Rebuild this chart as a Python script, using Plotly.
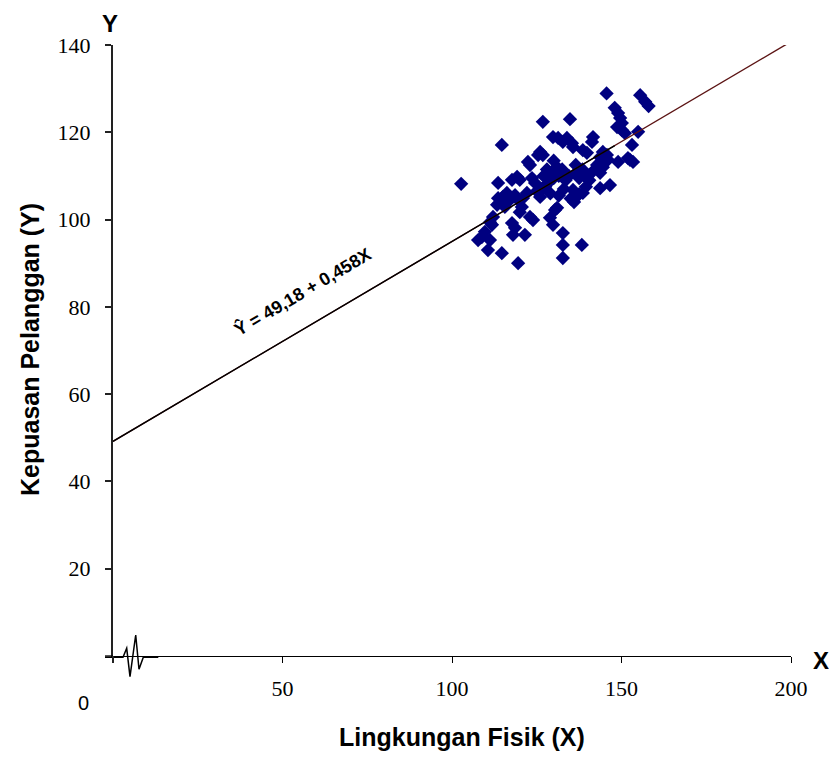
import plotly.graph_objects as go

# data
x_vals = [102.7, 114.7, 145.6, 155.5, 157.0, 158.0, 148.0, 149.0, 149.6, 150.1,
          148.7, 150.1, 151.0, 154.9, 126.8, 134.8, 129.8, 131.3, 132.7, 133.9,
          135.4, 135.7, 141.6, 141.3, 153.1, 126.0, 126.8, 125.4, 122.4, 123.0,
          138.6, 139.8, 144.5, 145.7, 143.7, 146.0, 142.8, 144.5, 143.7, 151.9,
          153.4, 149.0, 130.0, 131.0, 129.5, 131.5, 132.5, 130.0, 133.5, 134.5,
          136.5, 137.0, 138.5, 137.5, 139.0, 140.5, 141.5, 135.7, 136.5, 137.5,
          135.0, 136.0, 143.7, 146.6, 113.6, 119.2, 120.0, 117.7, 123.6, 124.5,
          116.2, 115.0, 113.6, 114.7, 113.3, 115.6, 117.1, 118.6, 119.5, 120.9,
          122.1, 126.0, 120.6, 120.0, 123.9, 123.0, 112.1, 111.2, 111.8, 109.7,
          108.8, 107.7, 111.2, 110.6, 114.7, 117.7, 118.6, 118.0, 121.5, 119.5,
          128.9, 129.8, 131.0, 130.4, 132.7, 132.7, 132.7, 138.3, 127.5, 128.5,
          126.5, 127.0, 128.0, 129.0, 125.0, 131.5, 133.0, 139.5, 138.6, 152.5]
y_vals = [108.2, 117.1, 128.9, 128.5, 127.0, 126.0, 125.6, 124.4, 123.3, 122.1,
          121.2, 120.5, 119.8, 120.1, 122.4, 123.0, 118.9, 118.7, 117.8, 118.7,
          117.5, 116.6, 118.9, 117.8, 117.1, 115.5, 114.8, 114.8, 113.2, 112.5,
          115.9, 115.3, 115.5, 114.8, 114.3, 113.7, 112.5, 112.0, 110.7, 114.1,
          113.2, 113.2, 113.5, 112.0, 111.0, 110.0, 111.5, 109.5, 109.0, 110.0,
          112.5, 111.0, 111.5, 109.5, 110.0, 109.0, 111.0, 106.8, 105.5, 105.8,
          104.8, 104.0, 107.2, 107.9, 108.4, 109.8, 109.1, 109.1, 109.5, 108.4,
          106.1, 105.2, 104.9, 104.0, 103.4, 102.9, 104.5, 105.6, 104.5, 104.9,
          106.1, 105.2, 102.9, 101.7, 99.9, 100.6, 100.6, 99.4, 98.8, 97.2,
          96.0, 95.3, 95.3, 93.0, 92.3, 99.2, 98.1, 96.5, 96.5, 90.0,
          100.4, 98.8, 102.7, 102.2, 96.9, 94.2, 91.2, 94.2, 107.5, 108.5,
          107.0, 110.0, 111.5, 106.0, 106.5, 105.5, 107.0, 107.5, 106.1, 113.7]

intercept = 49.18
slope = 0.458
line_x_full = [0, 200]
line_x_black = [0, 148]
x_ticks = [50, 100, 150, 200]
y_ticks = [20, 40, 60, 80, 100, 120, 140]

# page has an 8px body margin; figure sized to fit the 837x758 window
OFF = 8
W, H = 837 - OFF, 758 - OFF
L, T = 113 - OFF, 45 - OFF
R = W - (791 - OFF)
B = H - (656 - OFF)
pw, ph = W - L - R, H - T - B

def px(xp):
    return (xp - OFF - L) / pw

def py(yp):
    return (H - B - (yp - OFF)) / ph

fig = go.Figure()
fig.add_trace(go.Scatter(x=x_vals, y=y_vals, mode="markers",
                         marker=dict(symbol="diamond", size=11, color="#000080",
                                     line=dict(width=0)),
                         showlegend=False, hoverinfo="skip"))
fig.add_trace(go.Scatter(x=line_x_full, y=[intercept + slope * v for v in line_x_full],
                         mode="lines", line=dict(color="#5c1414", width=1.4),
                         showlegend=False, hoverinfo="skip"))
fig.add_trace(go.Scatter(x=line_x_black, y=[intercept + slope * v for v in line_x_black],
                         mode="lines", line=dict(color="black", width=1.4),
                         showlegend=False, hoverinfo="skip"))

tick_font = dict(family="Liberation Serif, Times New Roman, serif", size=22, color="black")
fig.update_xaxes(range=[0, 200], tickvals=x_ticks, ticktext=[str(v) for v in x_ticks],
                 showgrid=False, zeroline=False, showline=True, linecolor="black",
                 linewidth=1.3, ticks="outside", ticklen=6, tickwidth=1.3, tickcolor="black",
                 tickfont=tick_font, ticklabelstandoff=6, automargin=False)
fig.update_yaxes(range=[0, 140], tickvals=y_ticks, ticktext=[str(v) for v in y_ticks],
                 showgrid=False, zeroline=False, showline=True, linecolor="#222222",
                 linewidth=2, ticks="outside", ticklen=6, tickwidth=1.5, tickcolor="#222222",
                 tickfont=tick_font, ticklabelstandoff=10, automargin=False)

bold = dict(family="Arial, Liberation Sans, sans-serif", color="black")
common = dict(showarrow=False, xanchor="center", yanchor="middle")
annotations = [
    dict(text="<b>Ŷ = 49,18 + 0,458X</b>", x=56, y=83.5, xref="x", yref="y",
         textangle=-30.5, font=dict(size=18, **bold), **common),
    dict(text="<b>Kepuasan Pelanggan (Y)</b>", x=px(30), y=py(350), xref="paper", yref="paper",
         textangle=-90, font=dict(size=25, **bold), **common),
    dict(text="<b>Lingkungan Fisik (X)</b>", x=px(462), y=py(737), xref="paper", yref="paper",
         font=dict(size=25, **bold), **common),
    dict(text="<b>Y</b>", x=px(110), y=py(8), xref="paper", yref="paper",
         showarrow=False, xanchor="center", yanchor="top",
         font=dict(size=24, **bold)),
    dict(text="<b>X</b>", x=px(821), y=py(660), xref="paper", yref="paper",
         font=dict(size=24, **bold), **common),
    dict(text="0", x=px(83), y=py(703), xref="paper", yref="paper",
         font=dict(size=20, family="Arial, Liberation Sans, sans-serif", color="black"), **common),
]

pts = [(105, 657.3), (123, 657.3), (126.7, 648.3), (130, 676.7), (135.7, 635),
       (139, 669.3), (143.3, 657.3), (158.3, 657.3)]
path = "M " + " L ".join(f"{px(a):.5f},{py(b):.5f}" for a, b in pts)
shapes = [
    dict(type="path", path=path, xref="paper", yref="paper",
         line=dict(color="black", width=1.5)),
    dict(type="line", x0=px(105), x1=px(113), y0=py(656), y1=py(656), xref="paper", yref="paper",
         line=dict(color="black", width=1.3)),
    dict(type="line", x0=px(113), x1=px(113), y0=py(656), y1=py(663), xref="paper", yref="paper",
         line=dict(color="#222222", width=2)),
]

fig.update_layout(width=W, height=H, autosize=False,
                  margin=dict(l=L, r=R, t=T, b=B, pad=0),
                  plot_bgcolor="white", paper_bgcolor="white",
                  annotations=annotations, shapes=shapes)

fig.write_html("out.html")
